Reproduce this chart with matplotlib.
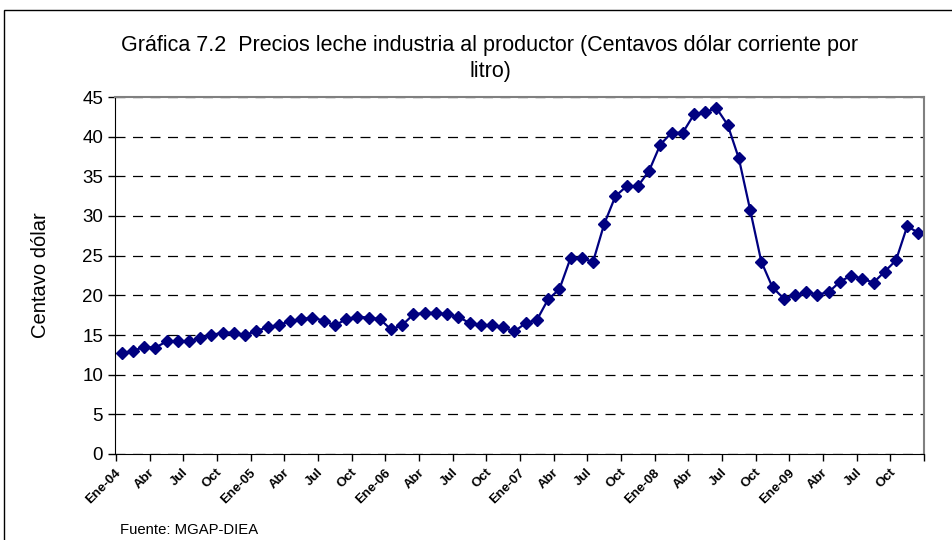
import numpy as np
import matplotlib.pyplot as plt
from matplotlib.patches import Rectangle

plt.rcParams['font.family'] = ['Liberation Sans', 'DejaVu Sans']

# precio mensual, centavos de dolar por litro (Ene-04 .. Dic-09)
precios_2004 = [12.7, 13.0, 13.5, 13.4, 14.2, 14.2, 14.2, 14.6, 15.0, 15.3, 15.3, 15.0]
precios_2005 = [15.5, 16.0, 16.25, 16.75, 17.0, 17.2, 16.8, 16.2, 17.0, 17.3, 17.2, 17.0]
precios_2006 = [15.7, 16.25, 17.6, 17.8, 17.8, 17.6, 17.3, 16.5, 16.25, 16.25, 15.95, 15.45]
precios_2007 = [16.5, 16.9, 19.5, 20.75, 24.7, 24.7, 24.2, 29.0, 32.5, 33.75, 33.75, 35.7]
precios_2008 = [39.0, 40.5, 40.5, 42.8, 43.1, 43.6, 41.5, 37.25, 30.8, 24.25, 21.0, 19.6]
precios_2009 = [20.0, 20.4, 20.1, 20.4, 21.7, 22.5, 22.1, 21.6, 23.0, 24.4, 28.7, 27.9]

etiquetas = ['Ene-04', 'Abr', 'Jul', 'Oct', 'Ene-05', 'Abr', 'Jul', 'Oct',
             'Ene-06', 'Abr', 'Jul', 'Oct', 'Ene-07', 'Abr', 'Jul', 'Oct',
             'Ene-08', 'Abr', 'Jul', 'Oct', 'Ene-09', 'Abr', 'Jul', 'Oct']

precios = (precios_2004 + precios_2005 + precios_2006 +
           precios_2007 + precios_2008 + precios_2009)
x = np.arange(len(precios))

fig = plt.figure(figsize=(9.53, 5.4), dpi=100)
ax = fig.add_axes([115 / 953, 86 / 540, 809 / 953, 357 / 540])

# marco del grafico
fig.patches.append(Rectangle((4 / 953, -0.1), 1.2, 1.1 - 10 / 540,
                             transform=fig.transFigure, fill=False,
                             edgecolor='black', linewidth=1.0))

ax.plot(x, precios, color='#000080', linewidth=1.6, marker='D',
        markersize=6.3, markerfacecolor='#000080', markeredgecolor='#000080')

ax.set_xlim(-0.5, len(precios) - 0.5)
ax.set_ylim(0, 45)
ax.set_yticks(range(0, 46, 5))
ax.tick_params(axis='y', labelsize=13.5, direction='out', length=5, width=1)

ax.set_xticks(np.arange(-0.5, len(precios), 3))
ax.set_xticklabels([])
ax.set_xticks(np.arange(0, len(precios), 3) - 0.6, minor=True)
ax.set_xticklabels(etiquetas, minor=True, rotation=45, ha='right',
                   rotation_mode='anchor', fontsize=9.5, fontweight='bold')
ax.tick_params(axis='x', which='major', direction='out', length=5, width=1)
ax.tick_params(axis='x', which='minor', length=0, pad=9)

ax.yaxis.grid(True, color='black', linestyle=(0, (8, 6)), linewidth=0.9)
ax.set_axisbelow(True)

ax.spines['top'].set_color('#808080')
ax.spines['right'].set_color('#808080')
ax.spines['top'].set_linewidth(1.5)
ax.spines['right'].set_linewidth(1.5)

ax.set_ylabel('Centavo dólar', fontsize=14.5, labelpad=23)

fig.text(490 / 953, 1 - 45 / 540,
         'Gráfica 7.2  Precios leche industria al productor (Centavos dólar corriente por',
         ha='center', va='center', fontsize=15.5)
fig.text(490 / 953, 1 - 72 / 540, 'litro)', ha='center', va='center', fontsize=15.5)

fig.text(120 / 953, 1 - 530 / 540, 'Fuente: MGAP-DIEA', ha='left', va='center',
         fontsize=10.7)

fig.savefig('out.png', dpi=100)
